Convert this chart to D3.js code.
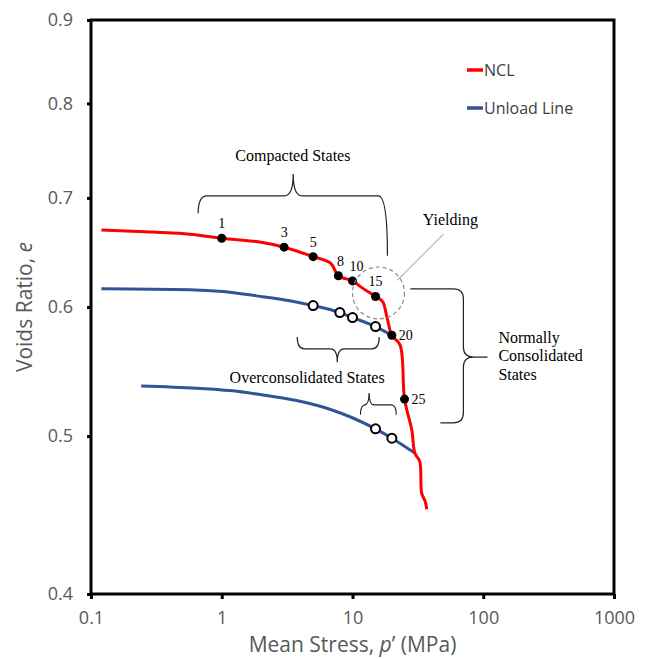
<!DOCTYPE html>
<html>
<head>
<meta charset="utf-8">
<script src="https://cdn.jsdelivr.net/npm/d3@7"></script>
<style>
  body { margin: 0; background: #fff; }
  .tick text { font-family: "Open Sans", sans-serif; font-size: 18px; fill: #595959; }
  .note { font-family: "Liberation Serif", serif; font-size: 16px; fill: #000; }
  .num { font-family: "Liberation Serif", serif; font-size: 14px; fill: #000; }
</style>
</head>
<body>
<svg id="chart" width="649" height="659"></svg>
<script>
// NCL (normal compression line)
const nclP = [0.12, 0.32, 0.57, 1, 2, 3, 5, 6.8, 7.8, 10, 12, 15, 17, 18.3, 20, 23.1, 25, 28.4, 30, 32.7, 33.8, 36, 37];
const nclE = [0.669, 0.6668, 0.6649, 0.6612, 0.6575, 0.6529, 0.6442, 0.6383, 0.6271, 0.6225, 0.616, 0.609, 0.6046, 0.5919, 0.5765, 0.5687, 0.5268, 0.5043, 0.4881, 0.4823, 0.4613, 0.4558, 0.4509];

// unload lines
const unload1P = [0.12, 0.57, 1.02, 1.85, 3.31, 5, 8, 10, 15, 20];
const unload1E = [0.6157, 0.6148, 0.6132, 0.6095, 0.6054, 0.6012, 0.5953, 0.5911, 0.5836, 0.5765];
const unload2P = [0.242, 0.64, 1.15, 2.07, 3.73, 6.71, 15, 20, 30];
const unload2E = [0.5367, 0.535, 0.5332, 0.5299, 0.5257, 0.5193, 0.5051, 0.4985, 0.4881];

// numbered states on the NCL
const stateP = [1, 3, 5, 7.8, 10, 15, 20, 25];
const stateE = [0.6612, 0.6529, 0.6442, 0.6271, 0.6225, 0.609, 0.5765, 0.5268];
const stateLabels = ["1", "3", "5", "8", "10", "15", "20", "25"];

// overconsolidated (open) states
const ocP = [5, 8, 10, 15, 15, 20];
const ocE = [0.6012, 0.5953, 0.5911, 0.5836, 0.5051, 0.4985];

const xTicks = [0.1, 1, 10, 100, 1000];
const yTicks = [0.4, 0.5, 0.6, 0.7, 0.8, 0.9];

const svg = d3.select("svg#chart");
const width = +svg.attr("width");
const height = +svg.attr("height");
const margin = { top: 20, right: 35, bottom: 65, left: 91 };

const x = d3.scaleLog().domain([0.1, 1000]).range([margin.left, width - margin.right]);
const y = d3.scaleLog().domain([0.4, 0.9]).range([height - margin.bottom, margin.top]);

const red = "#FF0000";
const blue = "#2F5597";

// axes
svg.append("g")
    .attr("transform", `translate(${margin.left},0)`)
    .call(d3.axisLeft(y).tickValues(yTicks).tickFormat(d3.format(".1f")).tickSize(4).tickPadding(14))
    .call(g => g.select(".domain").remove())
    .call(g => g.selectAll("line").attr("stroke", "#000").attr("stroke-width", 3));

svg.append("g")
    .attr("transform", `translate(0,${height - margin.bottom})`)
    .call(d3.axisBottom(x).tickValues(xTicks).tickFormat(d3.format("~g")).tickSize(5).tickPadding(12))
    .call(g => g.select(".domain").remove())
    .call(g => g.selectAll("line").attr("stroke", "#000").attr("stroke-width", 3));

// frame
svg.append("rect")
    .attr("x", margin.left).attr("y", margin.top)
    .attr("width", width - margin.left - margin.right)
    .attr("height", height - margin.top - margin.bottom)
    .attr("fill", "none").attr("stroke", "#000").attr("stroke-width", 3);

// axis titles
const xTitle = svg.append("text")
    .attr("x", (margin.left + width - margin.right) / 2)
    .attr("y", 652)
    .attr("text-anchor", "middle")
    .attr("font-family", "Open Sans, sans-serif").attr("font-size", 21).attr("fill", "#595959");
xTitle.append("tspan").text("Mean Stress, ");
xTitle.append("tspan").attr("font-style", "italic").text("p");
xTitle.append("tspan").text("’ (MPa)");

const yTitle = svg.append("text")
    .attr("transform", `translate(32,${(margin.top + height - margin.bottom) / 2}) rotate(-90)`)
    .attr("text-anchor", "middle")
    .attr("font-family", "Open Sans, sans-serif").attr("font-size", 21).attr("fill", "#595959");
yTitle.append("tspan").text("Voids Ratio, ");
yTitle.append("tspan").attr("font-style", "italic").text("e");

// lines
const nclGen = d3.line().x(d => x(d[0])).y(d => y(d[1])).curve(d3.curveCatmullRom.alpha(0.5));
const smoothGen = d3.line().x(d => x(d[0])).y(d => y(d[1])).curve(d3.curveMonotoneX);

svg.append("path").datum(d3.zip(unload1P, unload1E))
    .attr("fill", "none").attr("stroke", blue).attr("stroke-width", 3).attr("d", smoothGen);
svg.append("path").datum(d3.zip(unload2P, unload2E))
    .attr("fill", "none").attr("stroke", blue).attr("stroke-width", 3).attr("d", smoothGen);
svg.append("path").datum(d3.zip(nclP, nclE))
    .attr("fill", "none").attr("stroke", red).attr("stroke-width", 3)
    .attr("stroke-linejoin", "round").attr("d", nclGen);

// markers
svg.append("g").selectAll("circle")
    .data(d3.zip(ocP, ocE))
    .join("circle")
    .attr("cx", d => x(d[0])).attr("cy", d => y(d[1])).attr("r", 4.5)
    .attr("fill", "#fff").attr("stroke", "#000").attr("stroke-width", 2);

svg.append("g").selectAll("circle")
    .data(d3.zip(stateP, stateE))
    .join("circle")
    .attr("cx", d => x(d[0])).attr("cy", d => y(d[1])).attr("r", 4.5)
    .attr("fill", "#000");

svg.append("g").selectAll("text")
    .data(d3.zip(stateP, stateE, stateLabels))
    .join("text")
    .attr("class", "num")
    .attr("x", d => x(d[0]) + (+d[2] >= 20 ? 7 : (d[2] === "10" ? 4 : (d[2] === "8" ? 2 : 0))))
    .attr("y", d => y(d[1]) + (+d[2] >= 20 ? 5 : -10))
    .attr("text-anchor", d => +d[2] >= 20 ? "start" : "middle")
    .text(d => d[2]);

// braces
function braceH(x1, x2, y0, tipX, tipY, a1, a2, r) {
    return `M${x1},${a1} Q${x1},${y0} ${x1 + r},${y0} L${tipX - r},${y0} Q${tipX},${y0} ${tipX},${tipY}` +
        ` Q${tipX},${y0} ${tipX + r},${y0} L${x2 - r},${y0} Q${x2},${y0} ${x2},${a2}`;
}
function braceV(y1, y2, x0, tipY, tipX, a1, a2, r) {
    return `M${a1},${y1} L${x0 - r},${y1} Q${x0},${y1} ${x0},${y1 + r} L${x0},${tipY - r}` +
        ` Q${x0},${tipY} ${x0 + r},${tipY} L${tipX},${tipY} M${x0 + r},${tipY} Q${x0},${tipY} ${x0},${tipY + r}` +
        ` L${x0},${y2 - r} Q${x0},${y2} ${x0 - r},${y2} L${a2},${y2}`;
}
const ann = svg.append("g").attr("fill", "none").attr("stroke", "#222").attr("stroke-width", 1.2);

ann.append("path").attr("d", braceH(x(0.66), x(18.5), y(0.702), x(3.52), y(0.724), y(0.685), y(0.645), 9));
ann.append("path").attr("d", braceH(x(3.78), x(16.0), y(0.5655), x(7.65), y(0.555), y(0.575), y(0.575), 7));
ann.append("path").attr("d", braceH(x(11.5), x(21.6), y(0.5225), x(13.4), y(0.5314), y(0.5152), y(0.5152), 5));
ann.append("path").attr("d", braceV(y(0.6155), y(0.5094), x(70.5), y(0.559), x(107.7), x(27.7), x(47), 10));

// yielding
svg.append("circle")
    .attr("cx", x(15.8)).attr("cy", y(0.612)).attr("r", 26)
    .attr("fill", "none").attr("stroke", "#888").attr("stroke-width", 1.2).attr("stroke-dasharray", "4,3");
svg.append("line")
    .attr("x1", x(49.6)).attr("y1", y(0.665)).attr("x2", x(22.0)).attr("y2", y(0.623))
    .attr("stroke", "#888").attr("stroke-width", 1);

svg.append("text").attr("class", "note").attr("x", x(3.5)).attr("y", y(0.737))
    .attr("text-anchor", "middle").text("Compacted States");
svg.append("text").attr("class", "note").attr("x", x(56)).attr("y", y(0.674))
    .attr("text-anchor", "middle").text("Yielding");
svg.append("text").attr("class", "note").attr("x", x(4.5)).attr("y", y(0.539))
    .attr("text-anchor", "middle").text("Overconsolidated States");
const nc = svg.append("text").attr("class", "note").attr("x", x(130.6)).attr("y", y(0.5703));
["Normally", "Consolidated", "States"].forEach((t, i) => {
    nc.append("tspan").attr("x", x(130.6)).attr("dy", i ? 18.5 : 0).text(t);
});

// legend
const legend = svg.append("g").attr("transform", "translate(467,70)");
[["NCL", red], ["Unload Line", blue]].forEach(([name, c], i) => {
    const g = legend.append("g").attr("transform", `translate(0,${i * 38})`);
    g.append("line").attr("x1", 0).attr("x2", 16).attr("stroke", c).attr("stroke-width", 3.5);
    g.append("text").attr("x", 17).attr("dy", "0.35em")
        .attr("font-family", "Open Sans, sans-serif").attr("font-size", 16).attr("fill", "#404040")
        .text(name);
});
</script>
</body>
</html>
